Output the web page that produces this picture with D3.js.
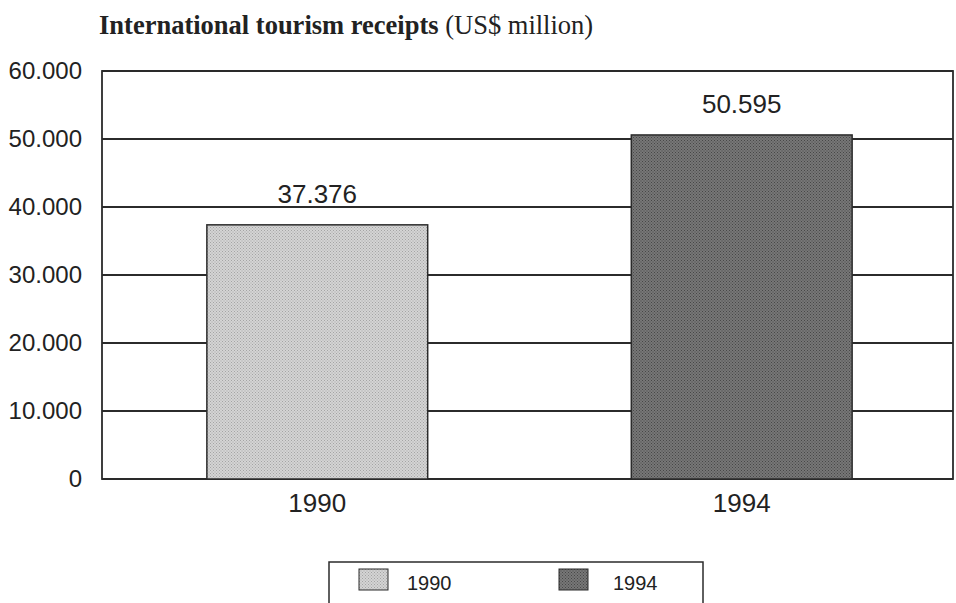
<!DOCTYPE html>
<html>
<head>
<meta charset="utf-8">
<script src="https://cdn.jsdelivr.net/npm/d3@7"></script>
<style>
  body { margin: 0; background: #fff; }
  svg { display: block; }
</style>
</head>
<body>
<div id="wrapper"></div>
<script>
const years = ["1990", "1994"];
const receipts = [37.376, 50.595];
const valueLabels = ["37.376", "50.595"];
const yTicks = [0, 10, 20, 30, 40, 50, 60];
const yTickLabels = ["0", "10.000", "20.000", "30.000", "40.000", "50.000", "60.000"];

const dimensions = {
  width: 956,
  height: 603,
  margin: { top: 71, right: 3, bottom: 124, left: 102 },
}
dimensions.boundedWidth = dimensions.width - dimensions.margin.left - dimensions.margin.right;
dimensions.boundedHeight = dimensions.height - dimensions.margin.top - dimensions.margin.bottom;

const ink = "#2b2b2b";
const font = "'Liberation Sans', Arial, sans-serif";

const wrapper = d3.select("#wrapper")
  .append("svg")
    .attr("width", dimensions.width)
    .attr("height", dimensions.height)

// halftone-like fills
const defs = wrapper.append("defs");
function dotPattern(id, base, dot) {
  const p = defs.append("pattern")
    .attr("id", id)
    .attr("width", 3)
    .attr("height", 3)
    .attr("patternUnits", "userSpaceOnUse");
  p.append("rect").attr("width", 3).attr("height", 3).attr("fill", base);
  p.append("rect").attr("width", 1).attr("height", 1).attr("fill", dot);
  p.append("rect").attr("x", 1.5).attr("y", 1.5).attr("width", 1).attr("height", 1).attr("fill", dot);
}
dotPattern("fill1990", "#d4d4d4", "#a4a4a4");
dotPattern("fill1994", "#777777", "#474747");
const fills = { "1990": "url(#fill1990)", "1994": "url(#fill1994)" };

// title
const title = wrapper.append("text")
  .attr("x", 99)
  .attr("y", 34)
  .style("font-family", "'Liberation Serif', 'Times New Roman', serif")
  .style("font-size", "26.5px")
  .attr("fill", "#222")
title.append("tspan").style("font-weight", "bold").text("International tourism receipts");
title.append("tspan").text(" (US$ million)");

const bounds = wrapper.append("g")
  .attr("transform", `translate(${dimensions.margin.left}, ${dimensions.margin.top})`)

const xScale = d3.scaleBand()
  .domain(years)
  .range([0, dimensions.boundedWidth])
  .paddingInner(0.475)
  .paddingOuter(0.24);

const yScale = d3.scaleLinear()
  .domain([0, 60])
  .range([dimensions.boundedHeight, 0]);

// gridlines
bounds.append("g")
  .selectAll("line")
  .data(yTicks)
  .join("line")
    .attr("x1", 0)
    .attr("x2", dimensions.boundedWidth)
    .attr("y1", d => yScale(d))
    .attr("y2", d => yScale(d))
    .attr("stroke", ink)
    .attr("stroke-width", 1.8);

// frame
bounds.append("rect")
  .attr("width", dimensions.boundedWidth)
  .attr("height", dimensions.boundedHeight)
  .attr("fill", "none")
  .attr("stroke", ink)
  .attr("stroke-width", 1.8);

// bars
bounds.selectAll(".bar")
  .data(years)
  .join("rect")
    .attr("class", "bar")
    .attr("x", d => xScale(d) + 3)
    .attr("y", (d, i) => yScale(receipts[i]))
    .attr("width", xScale.bandwidth() - 2)
    .attr("height", (d, i) => yScale(0) - yScale(receipts[i]))
    .attr("fill", d => fills[d])
    .attr("stroke", ink)
    .attr("stroke-width", 1.5);

// value labels
bounds.selectAll(".value")
  .data(years)
  .join("text")
    .attr("class", "value")
    .attr("x", d => xScale(d) + 2 + xScale.bandwidth() / 2)
    .attr("y", (d, i) => yScale(receipts[i]) - 22)
    .attr("text-anchor", "middle")
    .style("font-family", font)
    .style("font-size", "26px")
    .attr("fill", "#222")
    .text((d, i) => valueLabels[i]);

// y axis labels
const yAxisGenerator = d3.axisLeft()
  .scale(yScale)
  .tickValues(yTicks)
  .tickFormat((d, i) => yTickLabels[i])
  .tickSize(0)
  .tickPadding(20);

const yAxis = bounds.append("g")
  .call(yAxisGenerator);
yAxis.select(".domain").remove();
yAxis.selectAll("text")
  .style("font-family", font)
  .style("font-size", "24px")
  .attr("fill", "#222");

// x axis labels
const xAxisGenerator = d3.axisBottom()
  .scale(xScale)
  .tickSize(0)
  .tickPadding(15);

const xAxis = bounds.append("g")
  .attr("transform", `translate(2, ${dimensions.boundedHeight})`)
  .call(xAxisGenerator);
xAxis.select(".domain").remove();
xAxis.selectAll("text")
  .style("font-family", font)
  .style("font-size", "26px")
  .attr("fill", "#222");

// legend
const legend = wrapper.append("g")
  .attr("transform", "translate(329, 562)");
legend.append("rect")
  .attr("width", 374)
  .attr("height", 50)
  .attr("fill", "#fff")
  .attr("stroke", ink)
  .attr("stroke-width", 1.5);

const legendItems = legend.selectAll(".item")
  .data(years)
  .join("g")
    .attr("class", "item")
    .attr("transform", (d, i) => `translate(${30 + i * 200}, 7)`);
legendItems.append("rect")
  .attr("width", 29)
  .attr("height", 21)
  .attr("fill", d => fills[d])
  .attr("stroke", ink)
  .attr("stroke-width", 1);
legendItems.append("text")
  .attr("x", (d, i) => i === 0 ? 48 : 54)
  .attr("y", 21)
  .style("font-family", font)
  .style("font-size", "20px")
  .attr("fill", "#222")
  .text(d => d);
</script>
</body>
</html>
